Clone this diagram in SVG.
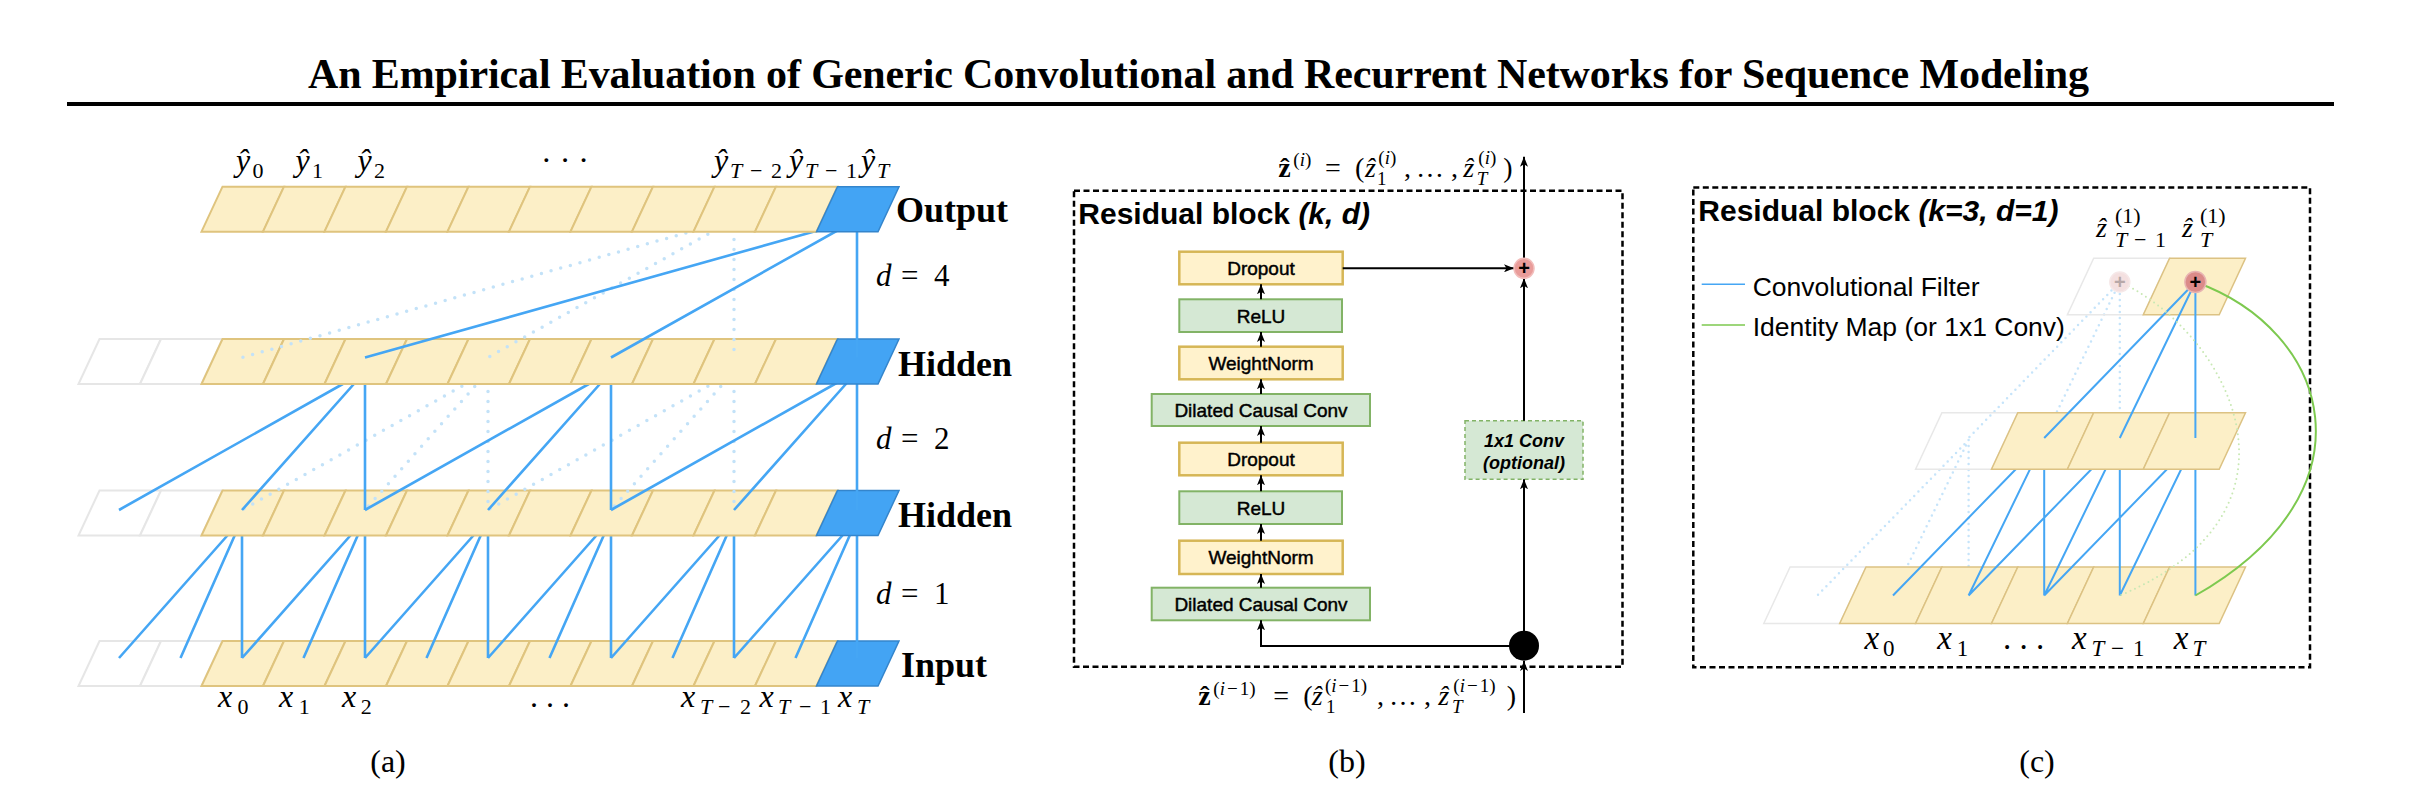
<svg xmlns="http://www.w3.org/2000/svg" width="2436" height="794" viewBox="0 0 2436 794">
<style>
.ttl{font-family:"Liberation Serif","Times New Roman",serif;font-weight:bold;font-size:42px}
.cap{font-family:"Liberation Serif","Times New Roman",serif;font-size:32px}
.lbl{font-family:"Liberation Serif","Times New Roman",serif;font-weight:bold;font-size:36px}
.m{font-family:"Liberation Serif","DejaVu Serif",serif}
.it{font-style:italic}
.bf{font-weight:bold}
.cy{fill:#FCEFC7;stroke:#DFC47E;stroke-width:2}
.cg{fill:#FFFFFF;stroke:#E6E6E6;stroke-width:2}
.cb{fill:#43A4F4;stroke:#3485CC;stroke-width:1.5}
.cy2{fill:#FCEFC7;stroke:#DCC283;stroke-width:1.5}
.cg2{fill:none;stroke:#E8E8E8;stroke-width:1.5}
.ln{stroke:#45A6F4;stroke-width:2.6;fill:none}
.dt{stroke:#C3E2F8;stroke-width:3.5;fill:none;stroke-linecap:round;stroke-dasharray:0 10}
.ln2{stroke:#45A6F4;stroke-width:2;fill:none}
.dt2{stroke:#C6E4FA;stroke-width:2.5;fill:none;stroke-linecap:round;stroke-dasharray:0 6}
.sans{font-family:"Liberation Sans",Arial,sans-serif}
.hd{font-family:"Liberation Sans",Arial,sans-serif;font-weight:bold;font-size:30px}
.bx{font-family:"Liberation Sans",Arial,sans-serif;font-size:19px;text-anchor:middle;stroke:#000;stroke-width:0.45}
.byel{fill:#FFF2CC;stroke:#D6B656;stroke-width:2.5}
.bgrn{fill:#D5E8D4;stroke:#82B366;stroke-width:2}
.ar{stroke:#000;stroke-width:2;fill:none;marker-end:url(#ah)}
.dash{fill:none;stroke:#000;stroke-width:2.5;stroke-dasharray:6 3.5}
</style>
<defs>
<polygon id="pa" points="0,0 61.5,0 40.5,45 -21,45"/>
<polygon id="pc" points="0,0 75.9,0 49.6,56.5 -26.3,56.5"/>
<marker id="ah" viewBox="0 0 10 8" refX="10" refY="4" markerWidth="10" markerHeight="8" markerUnits="userSpaceOnUse" orient="auto"><path d="M0,0 L10,4 L0,8 L2.5,4 z" fill="#000"/></marker>
</defs>
<rect width="2436" height="794" fill="#fff"/>

<g id="title">
<text class="ttl" x="308" y="88" textLength="1781" lengthAdjust="spacing">An Empirical Evaluation of Generic Convolutional and Recurrent Networks for Sequence Modeling</text>
<rect x="67" y="102" width="2267" height="4" fill="#000"/>
</g>

<!-- ============ Panel (a) ============ -->
<g id="panel-a">
<g id="a-input-row">
<use href="#pa" x="99.5" y="641" class="cg"/><use href="#pa" x="161" y="641" class="cg"/>
<use href="#pa" x="222.5" y="641" class="cy"/><use href="#pa" x="284" y="641" class="cy"/><use href="#pa" x="345.5" y="641" class="cy"/><use href="#pa" x="407" y="641" class="cy"/><use href="#pa" x="468.5" y="641" class="cy"/><use href="#pa" x="530" y="641" class="cy"/><use href="#pa" x="591.5" y="641" class="cy"/><use href="#pa" x="653" y="641" class="cy"/><use href="#pa" x="714.5" y="641" class="cy"/><use href="#pa" x="776" y="641" class="cy"/>
<use href="#pa" x="837.5" y="641" class="cb"/>
</g>
<g id="a-conn-h2-in">
<path class="ln" d="M242 519L119 658M242 519L180.5 658M242 519L242 658M365 519L242 658M365 519L303.5 658M365 519L365 658M488 519L365 658M488 519L426.5 658M488 519L488 658M611 519L488 658M611 519L549.5 658M611 519L611 658M734 519L611 658M734 519L672.5 658M734 519L734 658M857 519L734 658M857 519L795.5 658M857 519L857 658"/>
</g>
<g id="a-hidden2-row">
<use href="#pa" x="99.5" y="490.5" class="cg"/><use href="#pa" x="161" y="490.5" class="cg"/>
<use href="#pa" x="222.5" y="490.5" class="cy"/><use href="#pa" x="284" y="490.5" class="cy"/><use href="#pa" x="345.5" y="490.5" class="cy"/><use href="#pa" x="407" y="490.5" class="cy"/><use href="#pa" x="468.5" y="490.5" class="cy"/><use href="#pa" x="530" y="490.5" class="cy"/><use href="#pa" x="591.5" y="490.5" class="cy"/><use href="#pa" x="653" y="490.5" class="cy"/><use href="#pa" x="714.5" y="490.5" class="cy"/><use href="#pa" x="776" y="490.5" class="cy"/>
<use href="#pa" x="837.5" y="490.5" class="cb"/>
</g>
<g id="a-conn-h1-h2">
<path class="dt" d="M488 371.5L242 510M488 371.5L365 510M488 371.5L488 510M734 371.5L488 510M734 371.5L611 510M734 371.5L734 510"/>
<path class="ln" d="M365 371.5L119 510M365 371.5L242 510M365 371.5L365 510M611 371.5L365 510M611 371.5L488 510M611 371.5L611 510M857 371.5L611 510M857 371.5L734 510M857 371.5L857 510"/>
</g>
<g id="a-hidden1-row">
<use href="#pa" x="99.5" y="339" class="cg"/><use href="#pa" x="161" y="339" class="cg"/>
<use href="#pa" x="222.5" y="339" class="cy"/><use href="#pa" x="284" y="339" class="cy"/><use href="#pa" x="345.5" y="339" class="cy"/><use href="#pa" x="407" y="339" class="cy"/><use href="#pa" x="468.5" y="339" class="cy"/><use href="#pa" x="530" y="339" class="cy"/><use href="#pa" x="591.5" y="339" class="cy"/><use href="#pa" x="653" y="339" class="cy"/><use href="#pa" x="714.5" y="339" class="cy"/><use href="#pa" x="776" y="339" class="cy"/>
<use href="#pa" x="837.5" y="339" class="cb"/>
</g>
<g id="a-conn-out-h1">
<path class="dt" d="M734 219.5L242 357.5M734 219.5L488 357.5M734 219.5L734 357.5"/>
<path class="ln" d="M857 219.5L365 357.5M857 219.5L611 357.5M857 219.5L857 357.5"/>
</g>
<g id="a-output-row">
<use href="#pa" x="222.5" y="186.7" class="cy"/><use href="#pa" x="284" y="186.7" class="cy"/><use href="#pa" x="345.5" y="186.7" class="cy"/><use href="#pa" x="407" y="186.7" class="cy"/><use href="#pa" x="468.5" y="186.7" class="cy"/><use href="#pa" x="530" y="186.7" class="cy"/><use href="#pa" x="591.5" y="186.7" class="cy"/><use href="#pa" x="653" y="186.7" class="cy"/><use href="#pa" x="714.5" y="186.7" class="cy"/><use href="#pa" x="776" y="186.7" class="cy"/>
<use href="#pa" x="837.5" y="186.7" class="cb"/>
</g>
<g id="a-labels">
<text class="lbl" x="896" y="222">Output</text>
<text class="lbl" x="898" y="376">Hidden</text>
<text class="lbl" x="898" y="527">Hidden</text>
<text class="lbl" x="901" y="677">Input</text>
<text class="m" font-size="31"><tspan class="it" x="876" y="286">d</tspan><tspan x="901" y="286">=</tspan><tspan x="934" y="286">4</tspan></text>
<text class="m" font-size="31"><tspan class="it" x="876" y="448.5">d</tspan><tspan x="901" y="448.5">=</tspan><tspan x="934" y="448.5">2</tspan></text>
<text class="m" font-size="31"><tspan class="it" x="876" y="604">d</tspan><tspan x="901" y="604">=</tspan><tspan x="934" y="604">1</tspan></text>
<g class="m" font-size="32">
<text><tspan class="it" x="236" y="170.5">ŷ</tspan><tspan x="252.5" y="177.5" font-size="22">0</tspan></text>
<text><tspan class="it" x="295.5" y="170.5">ŷ</tspan><tspan x="312" y="177.5" font-size="22">1</tspan></text>
<text><tspan class="it" x="357.5" y="170.5">ŷ</tspan><tspan x="374" y="177.5" font-size="22">2</tspan></text>
<text x="541" y="170.5">· · ·</text>
<text><tspan class="it" x="714" y="170.5">ŷ</tspan><tspan class="it" x="730" y="177.5" font-size="22">T</tspan><tspan x="750" y="177.5" font-size="22">−</tspan><tspan x="771" y="177.5" font-size="22">2</tspan></text>
<text><tspan class="it" x="789" y="170.5">ŷ</tspan><tspan class="it" x="805" y="177.5" font-size="22">T</tspan><tspan x="825" y="177.5" font-size="22">−</tspan><tspan x="846" y="177.5" font-size="22">1</tspan></text>
<text><tspan class="it" x="861" y="170.5">ŷ</tspan><tspan class="it" x="877" y="177.5" font-size="22">T</tspan></text>
<text><tspan class="it" x="218" y="707">x</tspan><tspan x="237.5" y="713.5" font-size="22">0</tspan></text>
<text><tspan class="it" x="279" y="707">x</tspan><tspan x="298.8" y="713.5" font-size="22">1</tspan></text>
<text><tspan class="it" x="342" y="707">x</tspan><tspan x="360.8" y="713.5" font-size="22">2</tspan></text>
<text x="530" y="707">. . .</text>
<text><tspan class="it" x="681" y="707">x</tspan><tspan class="it" x="700" y="713.5" font-size="22">T</tspan><tspan x="718" y="713.5" font-size="22">−</tspan><tspan x="740" y="713.5" font-size="22">2</tspan></text>
<text><tspan class="it" x="759.5" y="707">x</tspan><tspan class="it" x="778" y="713.5" font-size="22">T</tspan><tspan x="799" y="713.5" font-size="22">−</tspan><tspan x="820" y="713.5" font-size="22">1</tspan></text>
<text><tspan class="it" x="838" y="707">x</tspan><tspan class="it" x="857" y="713.5" font-size="22">T</tspan></text>
</g>
</g>
<text class="cap" x="388" y="772" text-anchor="middle">(a)</text>
</g>

<!-- ============ Panel (b) ============ -->
<g id="panel-b">
<rect id="b-frame" class="dash" x="1074" y="190.7" width="548.5" height="476"/>
<text class="hd" x="1078.3" y="224">Residual block <tspan font-style="italic">(k, d)</tspan></text>
<g id="b-dropout1"><rect class="byel" x="1179.3" y="251.7" width="163.4" height="32.6"/><text class="bx" x="1261" y="275">Dropout</text></g>
<g id="b-relu1"><rect class="bgrn" x="1179.3" y="299.3" width="162.7" height="32.7"/><text class="bx" x="1261" y="322.5">ReLU</text></g>
<g id="b-wn1"><rect class="byel" x="1179.3" y="346.7" width="163.4" height="32.6"/><text class="bx" x="1261" y="370">WeightNorm</text></g>
<g id="b-dcc1"><rect class="bgrn" x="1151.7" y="394" width="218.3" height="32"/><text class="bx" x="1261" y="417">Dilated Causal Conv</text></g>
<g id="b-dropout2"><rect class="byel" x="1179.3" y="442.7" width="163.4" height="32.6"/><text class="bx" x="1261" y="466">Dropout</text></g>
<g id="b-relu2"><rect class="bgrn" x="1179.3" y="491.3" width="162.7" height="32.7"/><text class="bx" x="1261" y="514.5">ReLU</text></g>
<g id="b-wn2"><rect class="byel" x="1179.3" y="540.7" width="163.4" height="33.3"/><text class="bx" x="1261" y="564.3">WeightNorm</text></g>
<g id="b-dcc2"><rect class="bgrn" x="1151.7" y="587.7" width="218.3" height="32.6"/><text class="bx" x="1261" y="611">Dilated Causal Conv</text></g>
<g id="b-conv1x1"><rect x="1465" y="420.7" width="118" height="58.6" fill="#D5E8D4" stroke="#82B366" stroke-width="1.5" stroke-dasharray="4 3"/>
<text class="sans" font-size="18" font-weight="bold" font-style="italic" text-anchor="middle" x="1524" y="446.5">1x1 Conv</text>
<text class="sans" font-size="18" font-weight="bold" font-style="italic" text-anchor="middle" x="1524" y="468.5">(optional)</text></g>
<g id="b-connectors">
<path class="ar" d="M1261 587.7V574"/>
<path class="ar" d="M1261 540.7V524"/>
<path class="ar" d="M1261 491.3V475.3"/>
<path class="ar" d="M1261 442.7V426"/>
<path class="ar" d="M1261 394V379.3"/>
<path class="ar" d="M1261 346.7V332"/>
<path class="ar" d="M1261 299.3V284.3"/>
<path class="ar" d="M1524 646H1261V620.3"/>
<path class="ar" d="M1524 713V661"/>
<path class="ar" d="M1524 646V479.3"/>
<path class="ar" d="M1524 420.7V278.3"/>
<path class="ar" d="M1342.7 268.3H1514"/>
<path class="ar" d="M1524 258.3V156.7"/>
</g>
<g id="b-split"><circle cx="1524" cy="645.7" r="15" fill="#000"/></g>
<g id="b-add"><circle cx="1524" cy="268.3" r="10" fill="#E99C9A" stroke="#F2BDBB" stroke-width="1.5"/><text class="sans" font-weight="bold" font-size="20" text-anchor="middle" x="1524" y="275.3">+</text></g>
<g id="b-formula-top" class="m" font-size="28">
<text class="bf" x="1278.3" y="176.7">ẑ</text>
<text x="1293.3" y="166" font-size="19">(<tspan class="it">i</tspan>)</text>
<text x="1325" y="176.7">=</text>
<text x="1355" y="176.7">(</text>
<text class="it" x="1365" y="176.7">ẑ</text>
<text x="1378.3" y="164" font-size="19">(<tspan class="it">i</tspan>)</text>
<text x="1377" y="184.5" font-size="19">1</text>
<text x="1404" y="176.7">,</text>
<text x="1416" y="176.7">…</text>
<text x="1451" y="176.7">,</text>
<text class="it" x="1463.3" y="176.7">ẑ</text>
<text x="1478.3" y="164" font-size="19">(<tspan class="it">i</tspan>)</text>
<text class="it" x="1476.7" y="184.5" font-size="19">T</text>
<text x="1503.3" y="176.7">)</text>
</g>
<g id="b-formula-bottom" class="m" font-size="28">
<text class="bf" x="1198.3" y="705">ẑ</text>
<text x="1213.3" y="694.5" font-size="19">(<tspan class="it">i</tspan><tspan dx="2">−</tspan><tspan dx="2">1</tspan>)</text>
<text x="1273.3" y="705">=</text>
<text x="1303.3" y="705">(</text>
<text class="it" x="1311.7" y="705">ẑ</text>
<text x="1325" y="692" font-size="19">(<tspan class="it">i</tspan><tspan dx="2">−</tspan><tspan dx="2">1</tspan>)</text>
<text x="1326" y="713" font-size="19">1</text>
<text x="1377" y="705">,</text>
<text x="1389" y="705">…</text>
<text x="1424" y="705">,</text>
<text class="it" x="1438.3" y="705">ẑ</text>
<text x="1453.3" y="692" font-size="19">(<tspan class="it">i</tspan><tspan dx="2">−</tspan><tspan dx="2">1</tspan>)</text>
<text class="it" x="1452" y="713" font-size="19">T</text>
<text x="1506.7" y="705">)</text>
</g>
<text class="cap" x="1347" y="772" text-anchor="middle">(b)</text>
</g>

<!-- ============ Panel (c) ============ -->
<g id="panel-c">
<rect id="c-frame" class="dash" x="1693.3" y="187.5" width="616.7" height="479.8"/>
<text class="hd" x="1698.3" y="221">Residual block <tspan font-style="italic">(k=3, d=1)</tspan></text>
<g id="c-legend">
<line x1="1701.7" y1="284.3" x2="1745" y2="284.3" stroke="#45A6F4" stroke-width="1.5"/>
<text class="sans" font-size="26.5" x="1752.7" y="295.5">Convolutional Filter</text>
<line x1="1701.7" y1="325" x2="1745" y2="325" stroke="#7DC94F" stroke-width="1.5"/>
<text class="sans" font-size="26.5" x="1752.7" y="335.5">Identity Map (or 1x1 Conv)</text>
</g>
<g id="c-faint-connectors">
<path class="dt2" d="M2119.8 282L1968.6 438M2119.8 282L2044.2 438M2119.8 282L2119.8 438M1968.6 440L1817.4 595.5M1968.6 440L1893 595.5M1968.6 440L1968.6 595.5"/>
</g>
<g id="c-input-row">
<use href="#pc" x="1790.1" y="567" class="cg2"/>
<use href="#pc" x="1866" y="567" class="cy2"/><use href="#pc" x="1941.9" y="567" class="cy2"/><use href="#pc" x="2017.8" y="567" class="cy2"/><use href="#pc" x="2093.7" y="567" class="cy2"/><use href="#pc" x="2169.6" y="567" class="cy2"/>
</g>
<g id="c-conn-mid-in">
<path class="ln2" d="M2044.2 440L1893 595.5M2044.2 440L1968.6 595.5M2044.2 440L2044.2 595.5M2119.8 440L1968.6 595.5M2119.8 440L2044.2 595.5M2119.8 440L2119.8 595.5M2195.4 440L2044.2 595.5M2195.4 440L2119.8 595.5M2195.4 440L2195.4 595.5"/>
</g>
<g id="c-mid-row">
<use href="#pc" x="1941.9" y="412.7" class="cg2"/>
<use href="#pc" x="2017.8" y="412.7" class="cy2"/><use href="#pc" x="2093.7" y="412.7" class="cy2"/><use href="#pc" x="2169.6" y="412.7" class="cy2"/>
</g>
<g id="c-top-row">
<use href="#pc" x="2093.7" y="258.3" class="cg2"/>
<use href="#pc" x="2169.6" y="258.3" class="cy2"/>
</g>
<g id="c-conn-top-mid">
<path class="ln2" d="M2195.4 282L2044.2 438M2195.4 282L2119.8 438M2195.4 282L2195.4 438"/>
<path d="M2195.4 282C2330 330 2380 490 2195.4 595.5" fill="none" stroke="#7DC94F" stroke-width="2"/>
<path d="M2119.8 282C2225 330 2325 510 2119.8 595.5" fill="none" stroke="#C8E8B4" stroke-width="2" stroke-linecap="round" stroke-dasharray="0 5"/>
</g>
<g id="c-add-faint"><circle cx="2119.8" cy="282" r="10" fill="#F4E0E0" stroke="#F6E8E8" stroke-width="1.5"/><text class="sans" font-weight="bold" font-size="20" text-anchor="middle" x="2119.8" y="289" fill="#B8A8A8">+</text></g>
<g id="c-add"><circle cx="2195.4" cy="282" r="10.5" fill="#DB8B89" stroke="#E8B4B2" stroke-width="1.5"/><text class="sans" font-weight="bold" font-size="20" text-anchor="middle" x="2195.4" y="289">+</text></g>
<g id="c-labels" class="m">
<text font-size="28"><tspan class="it" x="2096" y="236.7">ẑ</tspan></text>
<text font-size="22" x="2115" y="223">(1)</text>
<text font-size="22"><tspan class="it" x="2115" y="246.7">T</tspan><tspan x="2134" y="246.7">−</tspan><tspan x="2155" y="246.7">1</tspan></text>
<text font-size="28"><tspan class="it" x="2182" y="236.7">ẑ</tspan></text>
<text font-size="22" x="2200" y="223">(1)</text>
<text font-size="22" class="it" x="2200" y="246.7">T</text>
<g font-size="33">
<text><tspan class="it" x="1864.5" y="649">x</tspan><tspan x="1883" y="656" font-size="23">0</tspan></text>
<text><tspan class="it" x="1937.3" y="649">x</tspan><tspan x="1956.7" y="656" font-size="23">1</tspan></text>
<text x="2003" y="649">. . .</text>
<text><tspan class="it" x="2072" y="649">x</tspan><tspan class="it" x="2091.4" y="656" font-size="23">T</tspan><tspan x="2111" y="656" font-size="23">−</tspan><tspan x="2133" y="656" font-size="23">1</tspan></text>
<text><tspan class="it" x="2173.8" y="649">x</tspan><tspan class="it" x="2192.4" y="656" font-size="23">T</tspan></text>
</g>
</g>
<text class="cap" x="2037" y="772" text-anchor="middle">(c)</text>
</g>
</svg>
